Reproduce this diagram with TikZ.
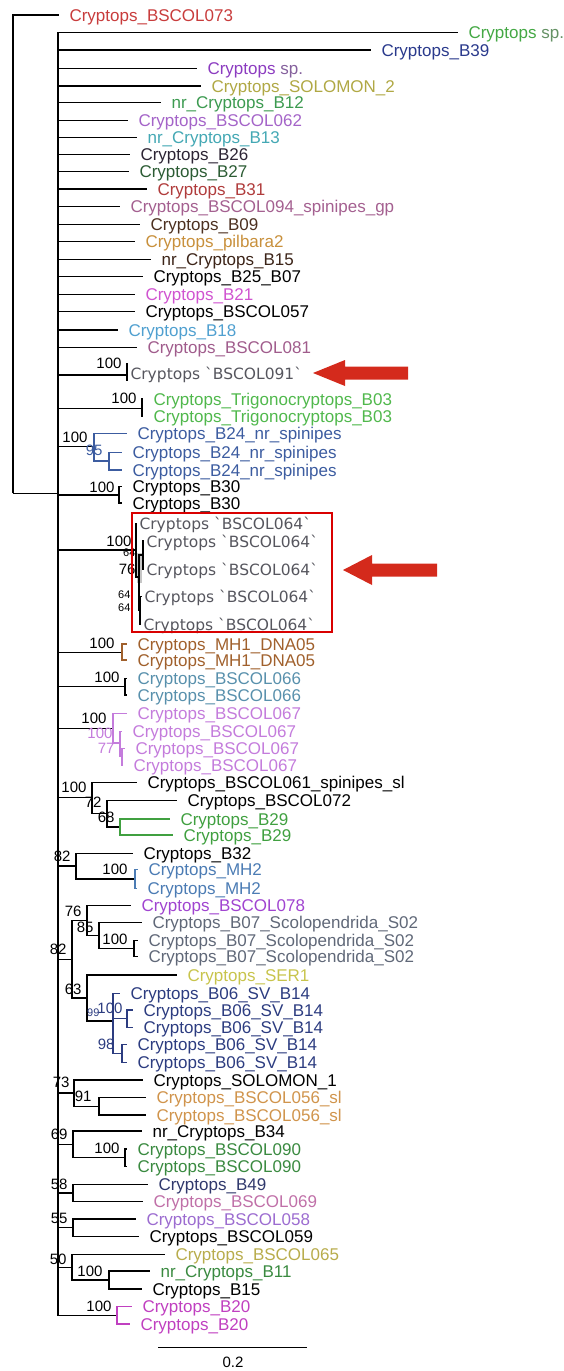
\documentclass[tikz,border=0pt]{standalone}
\usepackage{fontspec}
\setmainfont{Liberation Sans}
\newfontfamily\dejavu{DejaVu Sans}

\definecolor{cred}{HTML}{C83C3C}
\definecolor{cgreen}{HTML}{44A844}
\definecolor{cnavy}{HTML}{2A3A8C}
\definecolor{cpurple}{HTML}{8C3CC0}
\definecolor{colive}{HTML}{B0A844}
\definecolor{cgrnB}{HTML}{3C9A50}
\definecolor{corchid}{HTML}{A464C8}
\definecolor{cteal}{HTML}{44A8B4}
\definecolor{cdark}{HTML}{2C2434}
\definecolor{cdkgreen}{HTML}{2C5C34}
\definecolor{cdkred}{HTML}{B03C3C}
\definecolor{cmauve}{HTML}{A46090}
\definecolor{cbrown}{HTML}{4C3020}
\definecolor{ctan}{HTML}{C8903C}
\definecolor{cdkbrown}{HTML}{3C2418}
\definecolor{cmagenta}{HTML}{D054D0}
\definecolor{cltblue}{HTML}{50A0D0}
\definecolor{cmauvetwo}{HTML}{A05C8C}
\definecolor{cgrey}{HTML}{56565E}
\definecolor{ctrigo}{HTML}{50B84C}
\definecolor{cbtwofour}{HTML}{3C5CA0}
\definecolor{cmhone}{HTML}{A0602C}
\definecolor{csixsix}{HTML}{5890AC}
\definecolor{csixseven}{HTML}{C47CDC}
\definecolor{cbtwonine}{HTML}{40A040}
\definecolor{cmhtwo}{HTML}{4C7CB4}
\definecolor{cseveneight}{HTML}{A044D0}
\definecolor{cscolo}{HTML}{606878}
\definecolor{cser}{HTML}{C8C44C}
\definecolor{cbzerosix}{HTML}{2C3C80}
\definecolor{cfivesix}{HTML}{D0944C}
\definecolor{cninezero}{HTML}{3A8A40}
\definecolor{cfournine}{HTML}{30386C}
\definecolor{csixnine}{HTML}{C070A8}
\definecolor{cfiveeight}{HTML}{9C6CD0}
\definecolor{csixfive}{HTML}{B8AC4C}
\definecolor{cbtwozero}{HTML}{C040C0}
\definecolor{carrow}{HTML}{D42A1C}

\tikzset{
  leaf/.style={anchor=west, inner xsep=10pt, inner ysep=0pt,
    font=\fontsize{17}{17}\selectfont, text height=12pt, text depth=0pt},
  seqlab/.style={leaf, inner xsep=2pt, text=cgrey,
    font=\dejavu\fontsize{15.5}{15.5}\selectfont},
  boot/.style={anchor=east, inner sep=0pt, font=\fontsize{15}{15}\selectfont},
  smallboot/.style={boot, font=\fontsize{11}{11}\selectfont},
}

\begin{document}
\begin{tikzpicture}[x=1pt, y=-1pt, line width=1.1pt]
  \useasboundingbox (0,0) rectangle (564,1371);

  % root
  \coordinate (root) at (13,493.3);
  \coordinate (main) at (58,493.3);
  \node[leaf, text=cred] (t73) at (59,15) {Cryptops\_BSCOL073};
  \draw (root) |- (t73.west);
  \draw (root) -- (main);

  % unresolved taxa on the main line
  \foreach \i/\yy/\xx/\col/\txt in {
      1/32.7/458/cgreen/{Cryptops \textcolor{cgreen!45!gray}{sp.}},
      2/50/371/cnavy/{Cryptops\_B39},
      3/68.3/197/cpurple/{Cryptops \textcolor{cpurple!45!gray}{sp.}},
      4/86/201/colive/{Cryptops\_SOLOMON\_2},
      5/102.7/161/cgrnB/{nr\_Cryptops\_B12},
      6/120.7/128/corchid/{Cryptops\_BSCOL062},
      7/137.7/137/cteal/{nr\_Cryptops\_B13},
      8/154.3/130/cdark/{Cryptops\_B26},
      9/171.7/129/cdkgreen/{Cryptops\_B27},
      10/189/147/cdkred/{Cryptops\_B31},
      11/206.7/120/cmauve/{Cryptops\_BSCOL094\_spinipes\_gp},
      12/224.3/140/cbrown/{Cryptops\_B09},
      13/241.7/135/ctan/{Cryptops\_pilbara2},
      14/259.3/151/cdkbrown/{nr\_Cryptops\_B15},
      15/276.7/143/black/{Cryptops\_B25\_B07},
      16/294.3/135/cmagenta/{Cryptops\_B21},
      17/311.7/135/black/{Cryptops\_BSCOL057},
      18/330/118/cltblue/{Cryptops\_B18},
      19/347.3/137/cmauvetwo/{Cryptops\_BSCOL081}} {
    \node[leaf, text=\col] (p\i) at (\xx,\yy) {\txt};
    \draw (main) |- (p\i.west);
  }

  % BSCOL091
  \coordinate (c91) at (127,375);
  \coordinate (c91top) at (127,363);
  \coordinate (c91bot) at (127,381);
  \draw (main) |- (c91);
  \draw (c91top) -- (c91bot);
  \node[seqlab] (l91) at (128,373) {Cryptops \textasciigrave BSCOL091\textasciigrave};
  \node[boot] (s91) at (122,363) {100};
  \fill[carrow] (313,373) -- (345,360) -- (345,366.5) -- (408,366.5)
    -- (408,379.5) -- (345,379.5) -- (345,386) -- cycle;

  % Trigonocryptops
  \coordinate (nT) at (142,408.3);
  \draw (main) |- (nT);
  \node[leaf, text=ctrigo] (lT1) at (143,399) {Cryptops\_Trigonocryptops\_B03};
  \node[leaf, text=ctrigo] (lT2) at (143,416.7) {Cryptops\_Trigonocryptops\_B03};
  \foreach \k in {lT1,lT2} \draw (nT) |- (\k.west);
  \node[boot] (sT) at (137,398) {100};

  % B24
  \coordinate (nB24) at (94,446.7);
  \coordinate (nB24b) at (109,461);
  \draw (main) |- (nB24);
  \node[leaf, text=cbtwofour] (lB24a) at (127,433.3) {Cryptops\_B24\_nr\_spinipes};
  \node[leaf, text=cbtwofour] (lB24b) at (122,452.3) {Cryptops\_B24\_nr\_spinipes};
  \node[leaf, text=cbtwofour] (lB24c) at (122,470) {Cryptops\_B24\_nr\_spinipes};
  \draw[cbtwofour] (nB24) |- (lB24a.west);
  \draw[cbtwofour] (nB24) |- (nB24b);
  \foreach \k in {lB24b,lB24c} \draw[cbtwofour] (nB24b) |- (\k.west);
  \node[boot] (sB24) at (88,437) {100};
  \node[boot, text=cbtwofour] (sB24b) at (103,450) {95};

  % B30
  \coordinate (nB30) at (119,495);
  \draw (main) |- (nB30);
  \node[leaf] (lB30a) at (122,486.7) {Cryptops\_B30};
  \node[leaf] (lB30b) at (122,503) {Cryptops\_B30};
  \foreach \k in {lB30a,lB30b} \draw (nB30) |- (\k.west);
  \node[boot] (sB30) at (115,487) {100};

  % BSCOL064
  \coordinate (nA) at (136,550);
  \coordinate (nB) at (139,577);
  \coordinate (nC) at (143,555);
  \coordinate (nD) at (140,610);
  \fill[gray!45] (137,553) rectangle (142,583);
  \draw (main) |- (nA);
  \node[seqlab] (l64a) at (137,523.3) {Cryptops \textasciigrave BSCOL064\textasciigrave};
  \node[seqlab] (l64b) at (144,541) {Cryptops \textasciigrave BSCOL064\textasciigrave};
  \node[seqlab] (l64c) at (144,569) {Cryptops \textasciigrave BSCOL064\textasciigrave};
  \node[seqlab] (l64d) at (142,596.7) {Cryptops \textasciigrave BSCOL064\textasciigrave};
  \node[seqlab] (l64e) at (141,624) {Cryptops \textasciigrave BSCOL064\textasciigrave};
  \draw (nA) |- (l64a.west);
  \draw (nA) |- (nB);
  \draw (nB) |- (nC);
  \draw (nB) |- (nD);
  \foreach \k in {l64b,l64c} \draw (nC) |- (\k.west);
  \foreach \k in {l64d,l64e} \draw (nD) |- (\k.west);
  \node[boot] (s64a) at (132,541) {100};
  \node[smallboot] (s64b) at (136,553) {64};
  \node[boot] (s64c) at (136,569) {76};
  \node[smallboot] (s64d) at (131,595) {64};
  \node[smallboot] (s64e) at (131,608) {64};
  \draw[red!85!black, line width=2pt] (132,513) rectangle (332,632);
  \fill[carrow] (343,570) -- (372,555) -- (372,563.5) -- (437,563.5)
    -- (437,576.5) -- (372,576.5) -- (372,585) -- cycle;

  % MH1_DNA05
  \coordinate (nMH1) at (122,652.3);
  \draw (main) |- (nMH1);
  \node[leaf, text=cmhone] (lMH1a) at (127,644) {Cryptops\_MH1\_DNA05};
  \node[leaf, text=cmhone] (lMH1b) at (127,660) {Cryptops\_MH1\_DNA05};
  \foreach \k in {lMH1a,lMH1b} \draw[cmhone] (nMH1) |- (\k.west);
  \node[boot] (sMH1) at (115,643) {100};

  % BSCOL066
  \coordinate (n66) at (125,686.7);
  \draw (main) |- (n66);
  \node[leaf, text=csixsix] (l66a) at (127,678.3) {Cryptops\_BSCOL066};
  \node[leaf, text=csixsix] (l66b) at (127,695) {Cryptops\_BSCOL066};
  \foreach \k in {l66a,l66b} \draw (n66) |- (\k.west);
  \node[boot] (s66) at (120,677) {100};

  % BSCOL067
  \coordinate (n67) at (113,728.3);
  \coordinate (n67b) at (120,743);
  \coordinate (n67c) at (122,756.5);
  \draw (main) |- (n67);
  \node[leaf, text=csixseven] (l67a) at (127,713.3) {Cryptops\_BSCOL067};
  \node[leaf, text=csixseven] (l67b) at (122,731.7) {Cryptops\_BSCOL067};
  \node[leaf, text=csixseven] (l67c) at (125,748.3) {Cryptops\_BSCOL067};
  \node[leaf, text=csixseven] (l67d) at (123,765) {Cryptops\_BSCOL067};
  \draw[csixseven] (n67) |- (l67a.west);
  \draw[csixseven] (n67) |- (n67b);
  \draw[csixseven] (n67b) |- (l67b.west);
  \draw[csixseven] (n67b) |- (n67c);
  \foreach \k in {l67c,l67d} \draw[csixseven] (n67c) |- (\k.west);
  \node[boot] (s67) at (107,718) {100};
  \node[boot, text=csixseven] (s67b) at (113,733) {100};
  \node[boot, text=csixseven] (s67c) at (115,748) {77};

  % BSCOL061 / BSCOL072 / B29
  \coordinate (n61) at (92,797.7);
  \coordinate (n72) at (107,813.9);
  \coordinate (n68) at (120,827);
  \draw (main) |- (n61);
  \node[leaf] (l61) at (137,782.3) {Cryptops\_BSCOL061\_spinipes\_sl};
  \node[leaf] (l72) at (177,800.7) {Cryptops\_BSCOL072};
  \node[leaf, text=cbtwonine] (l29a) at (170,819) {Cryptops\_B29};
  \node[leaf, text=cbtwonine] (l29b) at (173,835) {Cryptops\_B29};
  \draw (n61) |- (l61.west);
  \draw (n61) |- (n72);
  \draw (n72) |- (l72.west);
  \draw (n72) |- (n68);
  \foreach \k in {l29a,l29b} \draw[cbtwonine] (n68) |- (\k.west);
  \node[boot] (s61) at (87,787) {100};
  \node[boot] (s72) at (102,802) {72};
  \node[boot] (s68) at (115,817) {68};

  % B32 / MH2
  \coordinate (n82a) at (76,866);
  \coordinate (nMH2) at (135,879);
  \draw (main) |- (n82a);
  \node[leaf] (l32) at (133,853.3) {Cryptops\_B32};
  \node[leaf, text=cmhtwo] (lMH2a) at (138,869.3) {Cryptops\_MH2};
  \node[leaf, text=cmhtwo] (lMH2b) at (137,888.3) {Cryptops\_MH2};
  \draw (n82a) |- (l32.west);
  \draw (n82a) |- (nMH2);
  \foreach \k in {lMH2a,lMH2b} \draw[cmhtwo] (nMH2) |- (\k.west);
  \node[boot] (s82a) at (71,856) {82};
  \node[boot] (sMH2) at (128,869) {100};

  % BSCOL078 / Scolopendrida / SER1 / B06
  \coordinate (n82b) at (72,959.4);
  \coordinate (n76) at (87,920.8);
  \coordinate (n85) at (99,935.7);
  \coordinate (nS02) at (134,948.7);
  \coordinate (n63) at (87,998);
  \coordinate (n99) at (113,1021);
  \coordinate (nB06a) at (127,1018.7);
  \coordinate (nB06b) at (122,1053.3);
  \draw (main) |- (n82b);
  \draw (n82b) |- (n76);
  \draw (n82b) |- (n63);
  \node[leaf, text=cseveneight] (l78) at (131,905.7) {Cryptops\_BSCOL078};
  \node[leaf, text=cscolo] (lS02a) at (142,922.7) {Cryptops\_B07\_Scolopendrida\_S02};
  \node[leaf, text=cscolo] (lS02b) at (138,940.7) {Cryptops\_B07\_Scolopendrida\_S02};
  \node[leaf, text=cscolo] (lS02c) at (138,956.7) {Cryptops\_B07\_Scolopendrida\_S02};
  \draw (n76) |- (l78.west);
  \draw (n76) |- (n85);
  \draw (n85) |- (lS02a.west);
  \draw (n85) |- (nS02);
  \foreach \k in {lS02b,lS02c} \draw (nS02) |- (\k.west);
  \node[leaf, text=cser] (lSER) at (177,975) {Cryptops\_SER1};
  \node[leaf, text=cbzerosix] (lB06a) at (120,993.3) {Cryptops\_B06\_SV\_B14};
  \node[leaf, text=cbzerosix] (lB06b) at (133,1010) {Cryptops\_B06\_SV\_B14};
  \node[leaf, text=cbzerosix] (lB06c) at (133,1027.3) {Cryptops\_B06\_SV\_B14};
  \node[leaf, text=cbzerosix] (lB06d) at (127,1044.3) {Cryptops\_B06\_SV\_B14};
  \node[leaf, text=cbzerosix] (lB06e) at (127,1062.3) {Cryptops\_B06\_SV\_B14};
  \draw (n63) |- (lSER.west);
  \draw (n63) |- (n99);
  \draw[cbzerosix] (n99) |- (lB06a.west);
  \draw[cbzerosix] (n99) |- (nB06a);
  \draw[cbzerosix] (n99) |- (nB06b);
  \foreach \k in {lB06b,lB06c} \draw[cbzerosix] (nB06a) |- (\k.west);
  \foreach \k in {lB06d,lB06e} \draw[cbzerosix] (nB06b) |- (\k.west);
  \node[boot] (s82b) at (67,949) {82};
  \node[boot] (s76) at (82,911) {76};
  \node[boot] (s85) at (94,927) {85};
  \node[boot] (sS02) at (128,939) {100};
  \node[boot] (s63) at (82,989) {63};
  \node[smallboot, text=cbzerosix] (s99) at (100,1013) {99};
  \node[boot, text=cbzerosix] (sB06a) at (123,1008) {100};
  \node[boot, text=cbzerosix] (sB06b) at (115,1044) {98};

  % SOLOMON_1 / BSCOL056
  \coordinate (n73) at (74,1093);
  \coordinate (n91) at (99,1106.3);
  \draw (main) |- (n73);
  \node[leaf] (lSol) at (143,1080) {Cryptops\_SOLOMON\_1};
  \node[leaf, text=cfivesix] (l56a) at (146,1097.7) {Cryptops\_BSCOL056\_sl};
  \node[leaf, text=cfivesix] (l56b) at (146,1115) {Cryptops\_BSCOL056\_sl};
  \draw (n73) |- (lSol.west);
  \draw (n73) |- (n91);
  \foreach \k in {l56a,l56b} \draw (n91) |- (\k.west);
  \node[boot] (s73) at (70,1082) {73};
  \node[boot] (s91) at (92,1096) {91};

  % B34 / BSCOL090
  \coordinate (n69) at (73,1144.4);
  \coordinate (n90) at (125,1157.8);
  \draw (main) |- (n69);
  \node[leaf] (l34) at (142,1131) {nr\_Cryptops\_B34};
  \node[leaf, text=cninezero] (l90a) at (127,1149) {Cryptops\_BSCOL090};
  \node[leaf, text=cninezero] (l90b) at (127,1166.7) {Cryptops\_BSCOL090};
  \draw (n69) |- (l34.west);
  \draw (n69) |- (n90);
  \foreach \k in {l90a,l90b} \draw (n90) |- (\k.west);
  \node[boot] (s69) at (68,1134) {69};
  \node[boot] (s90) at (120,1148) {100};

  % B49 / BSCOL069
  \coordinate (n58) at (73,1193);
  \draw (main) |- (n58);
  \node[leaf, text=cfournine] (l49) at (148,1184.3) {Cryptops\_B49};
  \node[leaf, text=csixnine] (l69) at (143,1201.7) {Cryptops\_BSCOL069};
  \foreach \k in {l49,l69} \draw (n58) |- (\k.west);
  \node[boot] (s58) at (68,1184) {58};

  % BSCOL058 / BSCOL059
  \coordinate (n55) at (73,1227.8);
  \draw (main) |- (n55);
  \node[leaf, text=cfiveeight] (l58) at (136,1219) {Cryptops\_BSCOL058};
  \node[leaf] (l59) at (139,1236.7) {Cryptops\_BSCOL059};
  \foreach \k in {l58,l59} \draw (n55) |- (\k.west);
  \node[boot] (s55) at (68,1218) {55};

  % BSCOL065 / B11 / B15
  \coordinate (n50) at (72,1267.4);
  \coordinate (n11) at (109,1280);
  \draw (main) |- (n50);
  \node[leaf, text=csixfive] (l65) at (165,1254.7) {Cryptops\_BSCOL065};
  \node[leaf, text=cninezero] (l11) at (150,1271) {nr\_Cryptops\_B11};
  \node[leaf] (l15) at (142,1289) {Cryptops\_B15};
  \draw (n50) |- (l65.west);
  \draw (n50) |- (n11);
  \foreach \k in {l11,l15} \draw (n11) |- (\k.west);
  \node[boot] (s50) at (67,1259) {50};
  \node[boot] (s11) at (103,1271) {100};

  % B20
  \coordinate (n20) at (117,1315.4);
  \draw (main) |- (n20);
  \node[leaf, text=cbtwozero] (l20a) at (132,1306.7) {Cryptops\_B20};
  \node[leaf, text=cbtwozero] (l20b) at (130,1324) {Cryptops\_B20};
  \foreach \k in {l20a,l20b} \draw[cbtwozero] (n20) |- (\k.west);
  \node[boot] (s20) at (112,1306) {100};

  % scale bar
  \coordinate (bar0) at (158,1347.3);
  \coordinate (bar1) at (307,1347.3);
  \draw (bar0) -- (bar1);
  \node[boot, anchor=center, font=\fontsize{15}{15}\selectfont] (barlab) at (233,1362) {0.2};
\end{tikzpicture}
\end{document}
